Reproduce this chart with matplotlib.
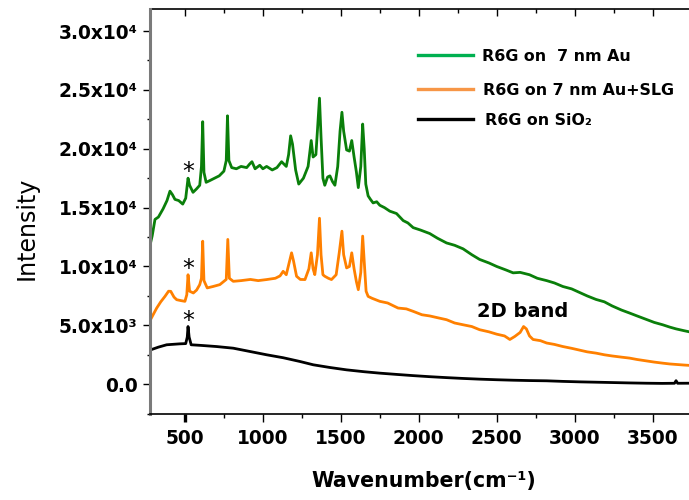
import numpy as np
import matplotlib
matplotlib.use("Agg")
import matplotlib.pyplot as plt
from matplotlib.ticker import MultipleLocator, FixedLocator, FixedFormatter
from matplotlib.lines import Line2D

# Spectra (wavenumber in cm-1, intensity in counts)
wn_au = [276, 290, 308, 330, 360, 385, 404, 420, 436, 460, 486, 505, 520, 530,
         552, 575, 595, 606, 614, 622, 636, 660, 690, 720, 750, 765, 773, 782,
         800, 830, 860, 896, 915, 930, 950, 980, 1000, 1024, 1060, 1090, 1120,
         1150, 1165, 1178, 1190, 1210, 1230, 1260, 1290, 1310, 1322, 1340, 1352,
         1363, 1373, 1385, 1397, 1415, 1430, 1447, 1462, 1480, 1495, 1507, 1518,
         1537, 1555, 1570, 1585, 1600, 1612, 1628, 1640, 1650, 1660, 1675, 1690,
         1707, 1730, 1750, 1780, 1814, 1857, 1900, 1930, 1964, 2010, 2070, 2120,
         2178, 2230, 2284, 2340, 2390, 2450, 2500, 2560, 2605, 2650, 2710, 2760,
         2820, 2870, 2924, 2980, 3030, 3080, 3137, 3190, 3240, 3300, 3351, 3400,
         3460, 3510, 3564, 3610, 3650, 3700, 3735]
i_au = [11800, 12600, 14000, 14200, 14900, 15600, 16400, 16100, 15700, 15600,
        15300, 15800, 17500, 16900, 16300, 16600, 16900, 18500, 22300, 18000,
        17150, 17300, 17500, 17700, 18100, 19000, 22800, 19000, 18400, 18300,
        18500, 18400, 18700, 18900, 18300, 18600, 18300, 18500, 18200, 18400,
        18900, 18500, 19500, 21100, 20400, 18200, 17000, 17500, 18500, 20700,
        19300, 19500, 22000, 24300, 21000, 17500, 16900, 17600, 17700, 17200,
        16900, 18500, 21500, 23100, 21500, 19900, 19800, 20700, 19300, 18000,
        16700, 18500, 22100, 20000, 17000, 16000, 15700, 15400, 15500, 15200,
        15000, 14700, 14500, 13900, 13700, 13300, 13100, 12800, 12400, 12000,
        11800, 11500, 11000, 10600, 10300, 10000, 9700, 9460, 9500, 9300, 9000,
        8800, 8600, 8300, 8100, 7800, 7500, 7200, 7000, 6650, 6300, 6050, 5800,
        5500, 5250, 5050, 4850, 4700, 4550, 4450]

wn_slg = [276, 300, 319, 345, 372, 395, 409, 430, 447, 475, 500, 512, 520, 530,
          554, 575, 595, 606, 614, 622, 643, 680, 724, 765, 775, 785, 810, 860,
          920, 970, 1024, 1080, 1110, 1130, 1150, 1170, 1184, 1196, 1216, 1240,
          1270, 1295, 1310, 1322, 1333, 1350, 1363, 1373, 1385, 1397, 1420, 1440,
          1470, 1490, 1507, 1518, 1537, 1555, 1570, 1585, 1600, 1612, 1628, 1640,
          1652, 1662, 1675, 1700, 1750, 1800, 1867, 1920, 1964, 2020, 2070, 2120,
          2178, 2230, 2284, 2340, 2390, 2450, 2500, 2550, 2584, 2616, 2650, 2672,
          2690, 2710, 2733, 2780, 2820, 2870, 2924, 2980, 3030, 3080, 3137, 3190,
          3240, 3300, 3351, 3400, 3460, 3510, 3564, 3610, 3650, 3700, 3735]
i_slg = [5400, 6000, 6470, 7000, 7460, 7900, 7890, 7400, 7180, 7100, 7040, 7600,
         9300, 7900, 7750, 8000, 8460, 9000, 12150, 8800, 8180, 8300, 8460, 8900,
         12300, 9000, 8740, 8800, 8900, 8800, 8890, 9000, 9200, 9590, 9300, 10400,
         11160, 10500, 9170, 8900, 8890, 9800, 11160, 9800, 9310, 11000, 14100,
         11000, 9300, 9170, 9000, 8890, 9300, 11200, 13000, 11000, 9880, 10000,
         11160, 9800, 8700, 8030, 9500, 12580, 10000, 7900, 7460, 7300, 7040,
         6900, 6470, 6400, 6190, 5900, 5800, 5650, 5480, 5200, 5050, 4900, 4630,
         4450, 4250, 4100, 3800, 4060, 4400, 4900, 4700, 4100, 3800, 3700, 3500,
         3380, 3200, 3050, 2900, 2750, 2640, 2500, 2400, 2300, 2220, 2100, 1980,
         1880, 1790, 1720, 1680, 1630, 1600]

wn_sio2 = [276, 330, 383, 468, 505, 515, 520, 527, 540, 600, 703, 810, 917, 1024,
           1130, 1238, 1323, 1430, 1537, 1650, 1750, 1860, 1964, 2070, 2178, 2284,
           2390, 2500, 2605, 2710, 2819, 2925, 3032, 3140, 3246, 3350, 3460, 3560,
           3640, 3650, 3660, 3735]
i_sio2 = [2900, 3150, 3350, 3430, 3450, 4000, 4900, 4000, 3350, 3300, 3200, 3060,
          2780, 2500, 2250, 1930, 1650, 1420, 1220, 1060, 940, 830, 730, 640, 560,
          490, 430, 380, 340, 310, 290, 240, 200, 170, 140, 110, 85, 70, 80, 300,
          80, 85]

labels = ["R6G on  7 nm Au", "R6G on 7 nm Au+SLG", "R6G on SiO\u2082"]
y_ticks = [0, 5000, 10000, 15000, 20000, 25000, 30000]
y_tick_labels = ["0.0", "5.0x10\u00b3", "1.0x10\u2074", "1.5x10\u2074",
                 "2.0x10\u2074", "2.5x10\u2074", "3.0x10\u2074"]
x_ticks = [500, 1000, 1500, 2000, 2500, 3000, 3500]

plt.rcParams['font.family'] = ['DejaVu Sans']

fig = plt.figure(figsize=(6.89, 5.0), dpi=100)
ax = fig.add_axes([150/689, 1-414/500, 539/689, 404.5/500])

ax.plot(wn_au, i_au, color='#0a7f0a', linewidth=2.0)
ax.plot(wn_slg, i_slg, color='#ff8000', linewidth=2.0)
ax.plot(wn_sio2, i_sio2, color='black', linewidth=2.0)

ax.set_xlim(276, 3733)
ax.set_ylim(-2530, 31830)

# x axis: ticks out at the bottom, in at the top
ax.xaxis.set_major_locator(FixedLocator(x_ticks))
ax.xaxis.set_minor_locator(MultipleLocator(250))
ax.tick_params(axis='x', which='major', direction='out', length=6, width=1,
               labelsize=13.4, pad=5, top=False)
ax.tick_params(axis='x', which='minor', direction='out', length=3, width=1, top=False)
for lab in ax.get_xticklabels():
    lab.set_fontweight('bold')

top = ax.secondary_xaxis('top')
top.xaxis.set_major_locator(FixedLocator(x_ticks))
top.xaxis.set_minor_locator(MultipleLocator(250))
top.tick_params(axis='x', which='major', direction='in', length=5, width=1, labeltop=False)
top.tick_params(axis='x', which='minor', direction='in', length=3, width=1)
top.spines['top'].set_linewidth(1.2)

# y axis
ax.yaxis.set_major_locator(FixedLocator(y_ticks))
ax.yaxis.set_major_formatter(FixedFormatter(y_tick_labels))
ax.yaxis.set_minor_locator(MultipleLocator(2500))
ax.tick_params(axis='y', which='major', direction='out', length=5, width=1,
               labelsize=13.4, pad=4, right=False)
ax.tick_params(axis='y', which='minor', direction='out', length=2.5, width=1, right=False)
for lab in ax.get_yticklabels():
    lab.set_fontweight('bold')

ax.spines['right'].set_visible(False)
ax.spines['top'].set_visible(False)
ax.spines['left'].set_color('#7a7a7a')
ax.spines['left'].set_linewidth(2.2)
ax.spines['bottom'].set_linewidth(1.2)

# the 500 tick is drawn grey and thick in the original
for t in ax.xaxis.get_major_ticks() + top.xaxis.get_major_ticks():
    if t.get_loc() == 500:
        t.tick1line.set_color('#7a7a7a')
        t.tick1line.set_markeredgewidth(2.4)
        t.tick2line.set_color('#7a7a7a')
        t.tick2line.set_markeredgewidth(2.4)

# axis labels
fig.text(27/689, 1-228/500, "Intensity", rotation=90, ha='center', va='center',
         fontsize=17)
fig.text(424/689, 1-487/500, "Wavenumber(cm\u207b\u00b9)", ha='center',
         va='baseline', fontsize=14.8, fontweight='bold')

# hand-drawn legend
leg_colors = ['#00b050', '#f79646', 'black']
leg_rows = [(55, 60.7, 482), (89.3, 95, 483), (119, 125, 485)]
for lab, col, (yl, yb, xt) in zip(labels, leg_colors, leg_rows):
    ax.add_line(Line2D([(418-150)/539, (473-150)/539], [(414-yl)/404.5]*2,
                       transform=ax.transAxes, color=col, linewidth=2.4))
    ax.text((xt-150)/539, (414-yb)/404.5, lab, transform=ax.transAxes,
            ha='left', va='baseline', fontsize=11.4, fontweight='bold')

# annotations
for yv in [17450, 9185, 4750]:
    ax.text(520, yv, "*", ha='center', va='baseline', fontsize=17)
ax.text(2664, 5710, "2D band", ha='center', va='baseline', fontsize=14,
        fontweight='bold')

fig.savefig("out.png", dpi=100)
